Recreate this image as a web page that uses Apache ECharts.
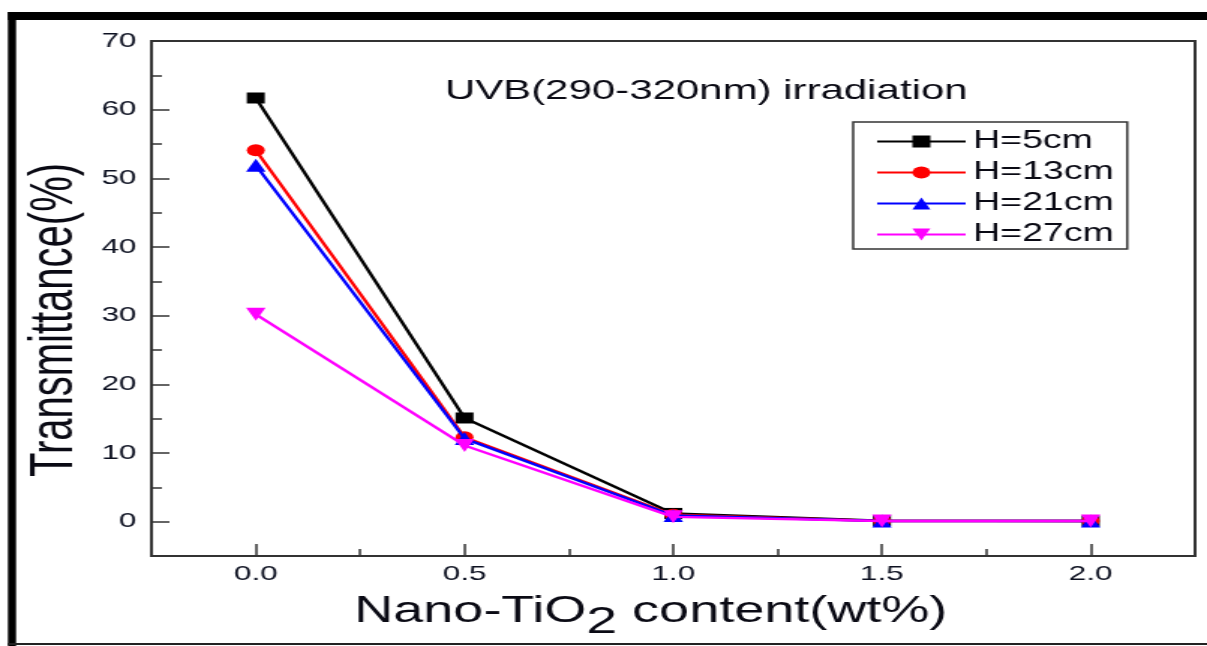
<!DOCTYPE html>
<html>
<head>
<meta charset="utf-8">
<script src="https://cdn.jsdelivr.net/npm/echarts@6/dist/echarts.min.js"></script>
<style>
  html, body { margin: 0; padding: 0; background: #fff; overflow: hidden; }
  #main { width: 805px; height: 646px; transform: scaleX(1.4994); transform-origin: 0 0; }
</style>
</head>
<body>
<div id="main"></div>
<script>
// ---- data ----
const xValues = [0.0, 0.5, 1.0, 1.5, 2.0];
const seriesNames = ['H=5cm', 'H=13cm', 'H=21cm', 'H=27cm'];
const h5  = [61.7, 15.1, 1.2, 0.15, 0.1];
const h13 = [54.1, 12.3, 1.0, 0.1, 0.1];
const h21 = [51.9, 12.1, 0.9, 0.1, 0.1];
const h27 = [30.2, 11.1, 0.7, 0.1, 0.1];
const yMajorTicks = [0, 10, 20, 30, 40, 50, 60, 70];
const yMinorTicks = [5, 15, 25, 35, 45, 55, 65];
const xMajorTicks = [0.0, 0.5, 1.0, 1.5, 2.0];
const xMinorTicks = [0.25, 0.75, 1.25, 1.75];
const chartTitle = 'UVB(290-320nm) irradiation';
const yTitle = 'Transmittance(%)';

// ---- styles ----
const FONT = '"Liberation Sans", Arial, Helvetica, sans-serif';
const AX = '#333333';
const LBL = '#0c1020';
const colors = ['#000000', '#ff0000', '#0000ff', '#ff00ff'];
const symbols = ['rect', 'circle', 'triangle', 'path://M0,0L2,0L1,1.7Z'];
const sizes = [[12, 11], 12, 13, 13];
const allData = [h5, h13, h21, h27];

const chart = echarts.init(document.getElementById('main'), null, { renderer: 'canvas' });

const series = allData.map((vals, i) => ({
  name: seriesNames[i],
  type: 'line',
  xAxisIndex: 0,
  yAxisIndex: 0,
  data: xValues.map((x, j) => [x, vals[j]]),
  symbol: symbols[i],
  symbolSize: sizes[i],
  showSymbol: true,
  lineStyle: { color: colors[i], width: 2.4 },
  itemStyle: { color: colors[i], borderWidth: 0 },
  z: 3 + i
}));

const option = {
  animation: false,
  backgroundColor: '#ffffff',
  textStyle: { fontFamily: FONT },
  grid: {
    left: 101, top: 41, width: 696, height: 515,
    show: true, borderColor: AX, borderWidth: 2, backgroundColor: 'transparent'
  },
  xAxis: [
    {
      type: 'value', min: -0.25, max: 2.25, position: 'bottom',
      axisLine: { show: true, onZero: false, lineStyle: { color: AX, width: 2 } },
      axisTick: { show: true, inside: true, length: 12, customValues: xMajorTicks, lineStyle: { color: AX, width: 1.5 } },
      axisLabel: { show: true, customValues: xMajorTicks, formatter: v => Number(v).toFixed(1),
        fontSize: 21, color: LBL, margin: 8, fontFamily: FONT },
      splitLine: { show: false }
    },
    {
      type: 'value', min: -0.25, max: 2.25, position: 'bottom',
      axisLine: { show: false, onZero: false },
      axisTick: { show: true, inside: true, length: 7, customValues: xMinorTicks, lineStyle: { color: AX, width: 1.5 } },
      axisLabel: { show: false },
      splitLine: { show: false }
    }
  ],
  yAxis: [
    {
      type: 'value', min: -5, max: 70, position: 'left',
      axisLine: { show: true, onZero: false, lineStyle: { color: AX, width: 2 } },
      axisTick: { show: true, inside: true, length: 12, customValues: yMajorTicks, lineStyle: { color: AX, width: 1.5 } },
      axisLabel: { show: true, customValues: yMajorTicks, fontSize: 21, color: LBL, margin: 10, fontFamily: FONT },
      splitLine: { show: false }
    },
    {
      type: 'value', min: -5, max: 70, position: 'left',
      axisLine: { show: false, onZero: false },
      axisTick: { show: true, inside: true, length: 7, customValues: yMinorTicks, lineStyle: { color: AX, width: 1.5 } },
      axisLabel: { show: false },
      splitLine: { show: false }
    }
  ],
  legend: {
    show: true,
    data: seriesNames,
    orient: 'vertical',
    left: 569, top: 122,
    padding: [7, 9, 2, 15],
    itemWidth: 59, itemHeight: 15, itemGap: 6,
    borderColor: AX, borderWidth: 1.5,
    backgroundColor: '#ffffff',
    textStyle: { fontSize: 25, color: '#0a0a14', fontFamily: FONT },
    selectedMode: false
  },
  graphic: [
    // outer frame
    { type: 'rect', shape: { x: 5.3, y: 12, width: 800, height: 8 }, style: { fill: '#000' }, silent: true },
    { type: 'rect', shape: { x: 5.3, y: 12, width: 5.4, height: 640 }, style: { fill: '#000' }, silent: true },
    { type: 'rect', shape: { x: 5.3, y: 643, width: 800, height: 2 }, style: { fill: '#222' }, silent: true },
    // in-plot title
    { type: 'text', x: 471, y: 91, silent: true,
      style: { text: chartTitle, fontSize: 28, fontFamily: FONT, fill: '#0a0a14',
        align: 'center', verticalAlign: 'middle' } },
    // y axis title
    { type: 'text', x: 37, y: 320, rotation: Math.PI / 2, silent: true,
      style: { text: yTitle, fontSize: 40, fontFamily: FONT, fill: '#0a0a14',
        align: 'center', verticalAlign: 'middle' } },
    // x axis title with subscript
    { type: 'text', x: 434, y: 612, silent: true,
      style: {
        text: '{a|Nano-TiO}{s|2}{a| content(wt%)}',
        align: 'center', verticalAlign: 'middle',
        rich: {
          a: { fontSize: 36, fontFamily: FONT, fill: '#0a0a14' },
          s: { fontSize: 37, fontFamily: FONT, fill: '#0a0a14', padding: [22, 0, 0, 0] }
        }
      } }
  ],
  series: series
};
chart.setOption(option);
</script>
</body>
</html>
